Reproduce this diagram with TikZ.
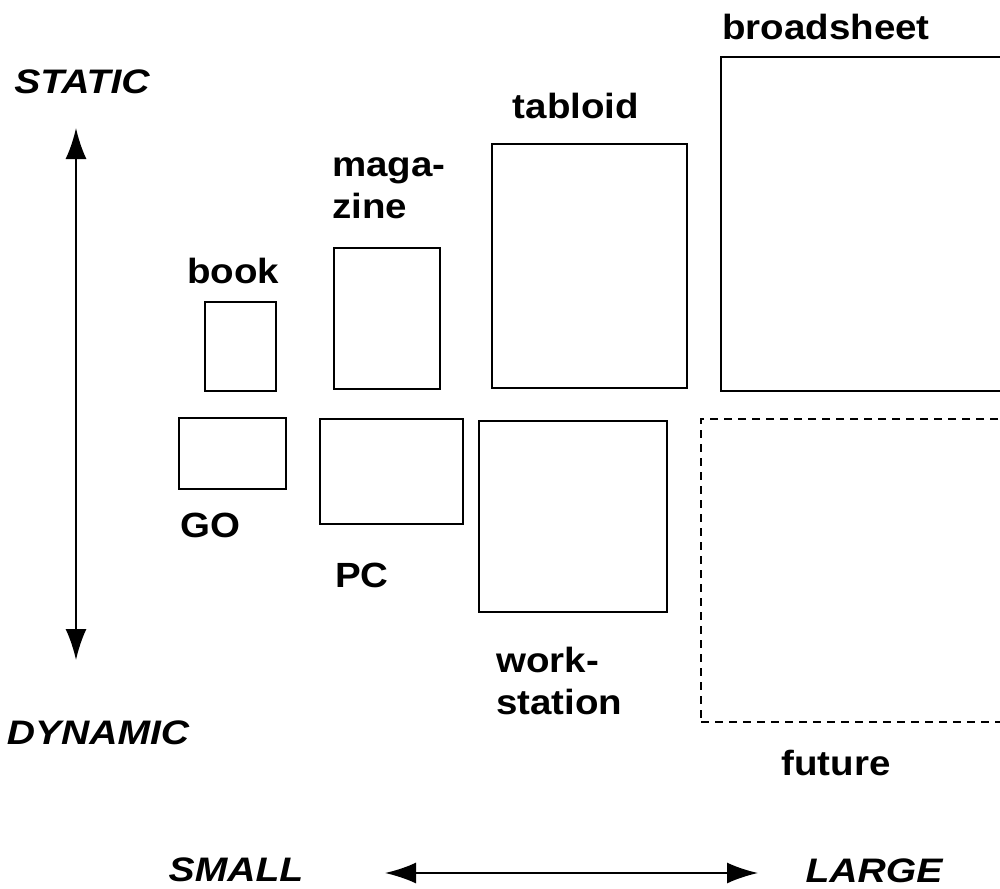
\documentclass[tikz,border=0pt]{standalone}
\usepackage{fontspec}
\setmainfont{Liberation Sans}[FakeStretch=1.1]
\newfontfamily\axfont{Liberation Sans}[FakeStretch=1.15]
\usetikzlibrary{arrows.meta}
\begin{document}
\begin{tikzpicture}[x=1pt,y=-1pt,
  box/.style={draw=black, line width=2pt, inner sep=0pt, anchor=north west},
  fbox/.style={box, dash pattern=on 8pt off 6pt},
  lbl/.style={font=\fontsize{35}{42}\selectfont\bfseries, inner sep=0pt, align=left},
  axl/.style={font=\axfont\fontsize{34}{38}\selectfont\bfseries\itshape, inner sep=0pt},
  axis/.style={line width=2pt, {Latex[length=31pt,width=21pt]}-{Latex[length=31pt,width=21pt]}}]
\clip (0,0) rectangle (1000,888);
% boxes
\node[box, minimum width=71pt, minimum height=89pt] (book) at (204,301) {};
\node[box, minimum width=106pt, minimum height=141pt] (magazine) at (333,247) {};
\node[box, minimum width=195pt, minimum height=244pt] (tabloid) at (491,143) {};
\node[box, minimum width=320pt, minimum height=334pt] (broadsheet) at (720,56) {};
\node[box, minimum width=107pt, minimum height=71pt] (go) at (178,417) {};
\node[box, minimum width=143pt, minimum height=105pt] (pc) at (319,418) {};
\node[box, minimum width=188pt, minimum height=191pt] (ws) at (478,420) {};
\node[fbox, minimum width=340pt, minimum height=303pt] (future) at (700,418) {};
% labels
\node[lbl] (tbroad) at (826,27) {broadsheet};
\node[lbl] (ttab) at (576,106) {tabloid};
\node[lbl, anchor=north west] (tmag) at (332,157) {maga-\\zine};
\node[lbl] (tbook) at (233,271) {book};
\node[lbl] (tgo) at (210,525) {GO};
\node[lbl] (tpc) at (362,575) {PC};
\node[lbl, anchor=north west] (tws) at (496,647) {work-\\station};
\node[lbl] (tfut) at (836,763) {future};
% axes
\node[axl] (static) at (82,82) {STATIC};
\node[axl] (dynamic) at (98,733) {DYNAMIC};
\node[axl] (small) at (236,870) {SMALL};
\node[axl] (large) at (874,871) {LARGE};
\coordinate (vtop) at (76,128);
\coordinate (vbot) at (76,660);
\coordinate (hl) at (385,873);
\coordinate (hr) at (758,873);
\draw[axis] (vtop) -- (vbot);
\draw[axis] (hl) -- (hr);
\end{tikzpicture}
\end{document}
